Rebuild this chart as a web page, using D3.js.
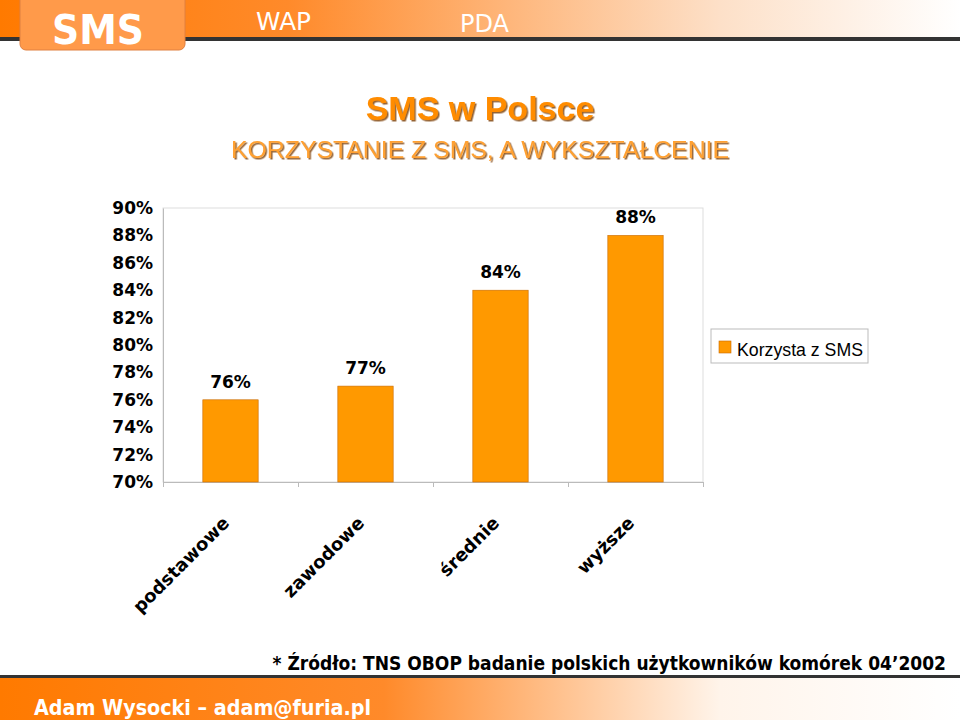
<!DOCTYPE html><html><head><meta charset="utf-8"><script src="https://cdn.jsdelivr.net/npm/d3@7"></script>
<style>body{margin:0;background:#fff}svg{display:block}</style></head><body><script>
const categories=["podstawowe","zawodowe","średnie","wyższe"];
const values=[76,77,84,88];
const yTicks=[70,72,74,76,78,80,82,84,86,88,90];
const seriesName="Korzysta z SMS";
const W=960,H=720;
const svg=d3.select("body").append("svg").attr("width",W).attr("height",H);
const defs=svg.append("defs");
const g1=defs.append("linearGradient").attr("id","hg");
g1.append("stop").attr("offset","0").attr("stop-color","#ff7a00");
g1.append("stop").attr("offset","0.3").attr("stop-color","#ff8a2a");
g1.append("stop").attr("offset","0.75").attr("stop-color","#fde0c8");
g1.append("stop").attr("offset","1").attr("stop-color","#ffffff");
const g2=defs.append("linearGradient").attr("id","fg");
g2.append("stop").attr("offset","0").attr("stop-color","#ff7a00");
g2.append("stop").attr("offset","0.4").attr("stop-color","#ff8a2a");
g2.append("stop").attr("offset","0.75").attr("stop-color","#fff4ea");
g2.append("stop").attr("offset","1").attr("stop-color","#ffffff");
const f=defs.append("filter").attr("id","sh").attr("x","-10%").attr("y","-30%").attr("width","120%").attr("height","160%");
f.append("feDropShadow").attr("dx",1.5).attr("dy",1.5).attr("stdDeviation",0.3).attr("flood-color","#7a3a00").attr("flood-opacity",0.8);
const fam="DejaVu Sans";
function t(x,y,s,o){const e=svg.append("text").attr("x",x).attr("y",y).text(s);for(const k in o)e.attr(k,o[k]);return e;}
// header
svg.append("rect").attr("x",0).attr("y",0).attr("width",W).attr("height",38).attr("fill","url(#hg)");
svg.append("rect").attr("x",0).attr("y",37).attr("width",W).attr("height",4).attr("fill","#333");
svg.append("rect").attr("x",20).attr("y",-8).attr("width",165).attr("height",58).attr("rx",6).attr("fill","#ff9a4a").attr("stroke","#e08040");
t(98,44,"SMS",{"text-anchor":"middle","font-family":fam,"font-weight":"bold","font-size":40,fill:"#fff",textLength:92,lengthAdjust:"spacingAndGlyphs"});
t(256,30,"WAP",{"font-family":fam,"font-size":24,fill:"#fff",textLength:55,lengthAdjust:"spacingAndGlyphs"});
t(460,32,"PDA",{"font-family":fam,"font-size":24,fill:"#fff",textLength:49,lengthAdjust:"spacingAndGlyphs"});
// footer
svg.append("rect").attr("x",0).attr("y",675).attr("width",W).attr("height",3).attr("fill","#333");
svg.append("rect").attr("x",0).attr("y",678).attr("width",W).attr("height",42).attr("fill","url(#fg)");
t(34,715,"Adam Wysocki – adam@furia.pl",{"font-family":fam,"font-weight":"bold","font-size":21,fill:"#fff",textLength:337,lengthAdjust:"spacingAndGlyphs"});
t(946,670,"* Źródło: TNS OBOP badanie polskich użytkowników komórek 04’2002",{"text-anchor":"end","font-family":"DejaVu Sans Condensed, DejaVu Sans","font-weight":"bold","font-size":19,fill:"#000"});
// titles
t(480,120,"SMS w Polsce",{"text-anchor":"middle","font-family":"Liberation Sans","font-weight":"bold","font-size":34,fill:"#ff8c00",filter:"url(#sh)"});
t(480,158,"KORZYSTANIE Z SMS, A WYKSZTAŁCENIE",{"text-anchor":"middle","font-family":"Liberation Sans","font-size":24,fill:"#ffa030",filter:"url(#sh)",textLength:498,lengthAdjust:"spacingAndGlyphs"});
// chart
const L=163,R=703,T=208,B=482;
const x=d3.scaleBand().domain(categories).range([L,R]).paddingInner(0.59).paddingOuter(0.295);
const y=d3.scaleLinear().domain([70,90]).range([B,T]);
svg.append("rect").attr("x",L).attr("y",T).attr("width",R-L).attr("height",B-T).attr("fill","none").attr("stroke","#ddd");
const ya=svg.append("g").attr("transform",`translate(${L},0)`).call(d3.axisLeft(y).tickValues(yTicks).tickFormat(d=>d+"%").tickSize(0).tickPadding(10));
ya.select(".domain").attr("stroke","#bbb");
ya.selectAll("text").attr("font-family",fam).attr("font-weight","bold").attr("font-size",17).attr("fill","#000");
const xa=svg.append("g").attr("transform",`translate(0,${B})`).call(d3.axisBottom(d3.scalePoint().domain(d3.range(5)).range([L,R])).tickSize(5).tickFormat(""));
xa.select(".domain").attr("stroke","#bbb");xa.selectAll("line").attr("stroke","#bbb");
svg.selectAll(".bar").data(values).join("rect").attr("x",(d,i)=>x(categories[i])).attr("y",d=>y(d)).attr("width",x.bandwidth()).attr("height",d=>B-y(d)).attr("fill","#ff9900").attr("stroke","#c86a00").attr("stroke-width",0.6);
svg.selectAll(".lbl").data(values).join("text").attr("x",(d,i)=>x(categories[i])+x.bandwidth()/2).attr("y",d=>y(d)-12).attr("text-anchor","middle").attr("font-family",fam).attr("font-weight","bold").attr("font-size",17).text(d=>d+"%");
svg.selectAll(".cat").data(categories).join("text").attr("transform",d=>`translate(${x(d)+x.bandwidth()/2},${B+42}) rotate(-45)`).attr("text-anchor","end").attr("font-family",fam).attr("font-weight","bold").attr("font-size",18).text(d=>d);
// legend
svg.append("rect").attr("x",711).attr("y",329).attr("width",157).attr("height",34).attr("fill","#fff").attr("stroke","#bbb");
svg.append("rect").attr("x",719).attr("y",341).attr("width",12).attr("height",12).attr("fill","#ff9900").attr("stroke","#c86a00").attr("stroke-width",0.6);
t(737,356,seriesName,{"font-family":"Liberation Sans","font-size":19,textLength:126,lengthAdjust:"spacingAndGlyphs"});
</script></body></html>
